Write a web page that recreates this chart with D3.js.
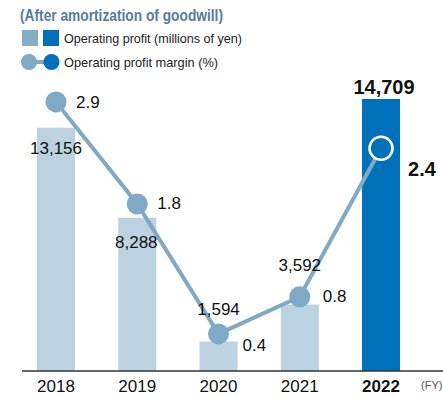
<!DOCTYPE html>
<html>
<head>
<meta charset="utf-8">
<script src="https://cdn.jsdelivr.net/npm/d3@7"></script>
<style>
  html, body { margin: 0; padding: 0; background: #fff; }
  svg { display: block; font-family: "Liberation Sans", Arial, Helvetica, sans-serif; }
</style>
</head>
<body>
<svg id="chart" width="443" height="397"></svg>
<script>
// Fiscal years, operating profit (millions of yen) and operating profit margin (%)
const years = ["2018", "2019", "2020", "2021", "2022"];
const profit = [13156, 8288, 1594, 3592, 14709];
const margin = [2.9, 1.8, 0.4, 0.8, 2.4];
const profitLabels = ["13,156", "8,288", "1,594", "3,592", "14,709"];
const marginLabels = ["2.9", "1.8", "0.4", "0.8", "2.4"];
const highlightYear = "2022";

const C = {
  barLight: "#bcd2e1",
  barDark: "#0070bb",
  line: "#7fa9c4",
  title: "#5a7c95",
  text: "#111",
  axis: "#333"
};

// Label placement relative to each mark (dx, dy in px)
const profitLabelDy = [26, 30, -27, -34, -5];
const profitLabelDx = [0, -1, 0, 0, 3];
const marginLabelDx = [20, 20, 24, 23, 27];
const marginLabelDy = [6, 5, 17, 5, 28];

const svg = d3.select("#chart");
const baseY = 371;

const x = d3.scaleBand()
  .domain(years)
  .range([15.4, 421.65])
  .paddingInner(0.532)
  .paddingOuter(0.266);

const yBar = d3.scaleLinear().domain([0, 14709]).range([baseY, 99]);
const yLine = d3.scaleLinear().domain([0, 3]).range([baseY, baseY - 3 * 92.8]);

const cx = d => x(d) + x.bandwidth() / 2;
const isHi = y => y === highlightYear;

// Title
svg.append("text")
  .attr("x", 20).attr("y", 21)
  .attr("textLength", 203).attr("lengthAdjust", "spacingAndGlyphs")
  .style("font-family", "'Liberation Sans Narrow', 'Liberation Sans', Arial, sans-serif")
  .style("font-size", "16.5px").style("font-weight", "bold")
  .attr("fill", C.title)
  .text("(After amortization of goodwill)");

// Legend
const lg = svg.append("g");
lg.append("rect").attr("x", 22).attr("y", 30).attr("width", 16).attr("height", 16).attr("fill", "#86adc6");
lg.append("rect").attr("x", 43).attr("y", 30).attr("width", 16).attr("height", 16).attr("fill", C.barDark);
lg.append("text").attr("x", 64).attr("y", 42.5)
  .attr("textLength", 178).attr("lengthAdjust", "spacingAndGlyphs")
  .style("font-size", "13.5px").attr("fill", "#222")
  .text("Operating profit (millions of yen)");
lg.append("line").attr("x1", 29).attr("x2", 52).attr("y1", 62).attr("y2", 62)
  .attr("stroke", C.line).attr("stroke-width", 4);
lg.append("circle").attr("cx", 29).attr("cy", 62).attr("r", 8).attr("fill", C.line);
lg.append("circle").attr("cx", 51.5).attr("cy", 62).attr("r", 8).attr("fill", C.barDark);
lg.append("text").attr("x", 64).attr("y", 67)
  .attr("textLength", 154).attr("lengthAdjust", "spacingAndGlyphs")
  .style("font-size", "13.5px").attr("fill", "#222")
  .text("Operating profit margin (%)");

// Bars
svg.append("g").selectAll("rect")
  .data(years)
  .join("rect")
  .attr("x", d => x(d))
  .attr("y", (d, i) => yBar(profit[i]))
  .attr("width", x.bandwidth())
  .attr("height", (d, i) => baseY - yBar(profit[i]))
  .attr("fill", d => isHi(d) ? C.barDark : C.barLight);

// Baseline axis
const xAxis = d3.axisBottom(x).tickSize(0).tickPadding(0);
const ax = svg.append("g").attr("transform", `translate(0,${baseY})`).call(xAxis);
ax.select(".domain").remove();
ax.selectAll(".tick text")
  .attr("y", 21)
  .attr("dy", 0)
  .style("font-size", "17px")
  .style("font-family", "'Liberation Sans', Arial, sans-serif")
  .style("font-weight", d => isHi(d) ? "bold" : "normal")
  .attr("fill", C.text);
svg.append("line")
  .attr("x1", 22).attr("x2", 443).attr("y1", baseY).attr("y2", baseY)
  .attr("stroke", C.axis).attr("stroke-width", 1.5);
svg.append("text").attr("x", 421).attr("y", 389)
  .style("font-size", "11px").attr("fill", "#555").text("(FY)");

// Margin line
const line = d3.line()
  .x((d, i) => cx(years[i]))
  .y(d => yLine(d));
svg.append("path")
  .datum(margin)
  .attr("d", line)
  .attr("fill", "none")
  .attr("stroke", C.line)
  .attr("stroke-width", 4);

svg.append("g").selectAll("circle")
  .data(years)
  .join("circle")
  .attr("cx", d => cx(d))
  .attr("cy", (d, i) => yLine(margin[i]))
  .attr("r", d => isHi(d) ? 11.5 : 10.5)
  .attr("fill", d => isHi(d) ? C.barDark : C.line)
  .attr("stroke", d => isHi(d) ? "#fff" : "none")
  .attr("stroke-width", 2.5);

// Profit value labels
svg.append("g").selectAll("text")
  .data(years)
  .join("text")
  .attr("x", (d, i) => cx(d) + profitLabelDx[i])
  .attr("y", (d, i) => yBar(profit[i]) + profitLabelDy[i])
  .attr("text-anchor", "middle")
  .style("font-size", d => isHi(d) ? "20px" : "17px")
  .style("font-weight", d => isHi(d) ? "bold" : "normal")
  .attr("fill", C.text)
  .text((d, i) => profitLabels[i]);

// Margin value labels
svg.append("g").selectAll("text")
  .data(years)
  .join("text")
  .attr("x", (d, i) => cx(d) + marginLabelDx[i])
  .attr("y", (d, i) => yLine(margin[i]) + marginLabelDy[i])
  .style("font-size", d => isHi(d) ? "20px" : "17px")
  .style("font-weight", d => isHi(d) ? "bold" : "normal")
  .attr("fill", C.text)
  .text((d, i) => marginLabels[i]);
</script>
</body>
</html>
